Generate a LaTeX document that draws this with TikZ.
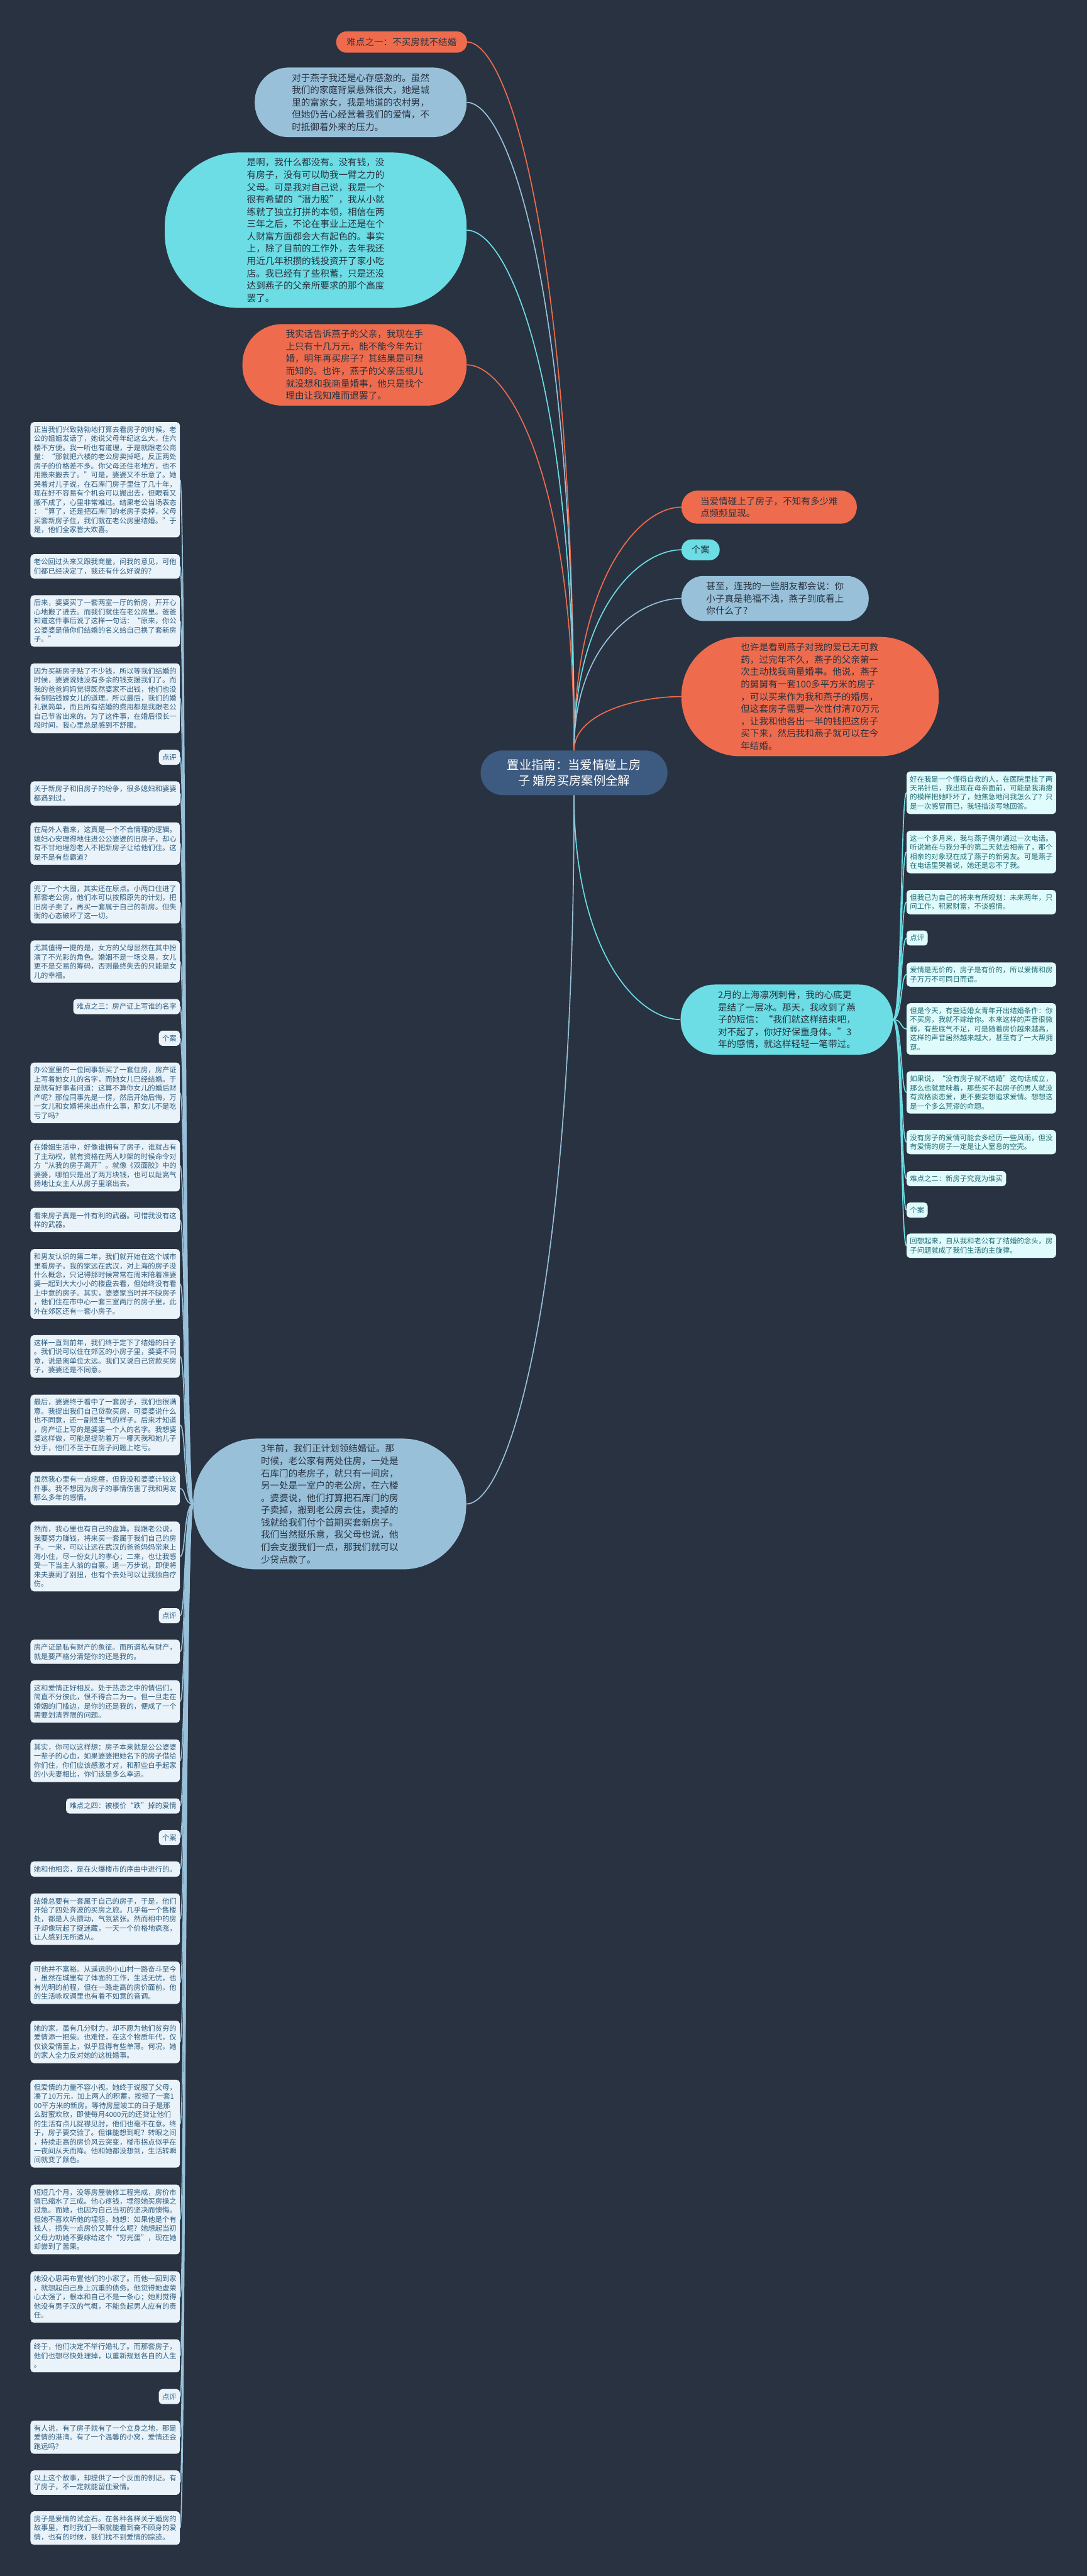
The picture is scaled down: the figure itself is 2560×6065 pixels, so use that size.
\documentclass[tikz,border=0pt]{standalone}
\usepackage{fontspec}
\setmainfont{Noto Sans CJK SC}
\usetikzlibrary{calc}
\definecolor{bgc}{HTML}{293241}
\definecolor{salmon}{HTML}{EE6C4D}
\definecolor{lblue}{HTML}{98C1D9}
\definecolor{cyanA}{HTML}{6CDDE4}
\definecolor{rootc}{HTML}{3D5A80}
\definecolor{lfill}{HTML}{EAF3F9}
\definecolor{rfill}{HTML}{E0FBFC}
\definecolor{ltext}{HTML}{2F5D80}
\definecolor{rtext}{HTML}{1F6A73}
\definecolor{tdark}{HTML}{293241}
\newcommand\fmain{\fontsize{21.6pt}{29pt}\selectfont}
\newcommand\fsmall{\fontsize{16.8pt}{21.4pt}\selectfont}
\newcommand\froot{\fontsize{28.6pt}{38pt}\selectfont}
\pgfdeclarelayer{bglayer}
\pgfsetlayers{bglayer,main}
\tikzset{
  mainbox/.style={align=left, inner sep=0pt, font=\fmain, text=tdark},
  colL/.style={fill=lfill, text=ltext, rounded corners=8pt, inner xsep=8pt, inner ysep=10pt, font=\fsmall, align=left, anchor=east},
  colLw/.style={colL, text width=336pt},
  colR/.style={fill=rfill, text=rtext, rounded corners=8pt, inner xsep=8pt, inner ysep=10pt, font=\fsmall, align=left, anchor=west},
  colRw/.style={colR, text width=336pt},
  link/.style={line width=2.5pt},
  salmonline/.style={link, draw=salmon},
  blueline/.style={link, draw=lblue},
  cyanline/.style={link, draw=cyanA},
}
\newcommand\vconn[3]{\draw[#1] (#2) .. controls ($(#2)!0.7!(#2 |- #3)$) and ($(#3)!0.4!(#2 |- #3)$) .. (#3);}
\newcommand\rconn[2]{\draw[cyanline] (#1) .. controls +(22,0) and +(-14,0) .. (#2);}
\newcommand\lconn[2]{\draw[blueline] (#1) .. controls +(-22,0) and +(14,0) .. (#2);}
\begin{document}
\begin{tikzpicture}[x=1pt,y=-1pt]
\begin{pgfonlayer}{bglayer}
\fill[bgc] (0,0) rectangle (2560,6065);
\end{pgfonlayer}
\useasboundingbox (0,0) rectangle (2560,6065);

% ---------- root ----------
\node[fill=rootc, text=white, font=\froot, align=center, minimum width=440pt, minimum height=105pt, rounded corners=52pt, inner sep=0pt] (root) at (1352,1819.5) {置业指南：当爱情碰上房\\子 婚房买房案例全解};

% ---------- upper left ----------
\node[mainbox, fill=salmon, minimum width=308pt, minimum height=50pt, rounded corners=24pt] (t1) at (946,99) {难点之一：不买房就不结婚};
\node[mainbox, fill=lblue, minimum width=499pt, minimum height=164pt, rounded corners=80pt] (t2) at (849.5,241) {对于燕子我还是心存感激的。虽然\\我们的家庭背景悬殊很大，她是城\\里的富家女，我是地道的农村男，\\但她仍苦心经营着我们的爱情，不\\时抵御着外来的压力。};
\node[mainbox, fill=cyanA, minimum width=711pt, minimum height=366pt, rounded corners=175pt] (t3) at (743.5,542) {是啊，我什么都没有。没有钱，没\\有房子，没有可以助我一臂之力的\\父母。可是我对自己说，我是一个\\很有希望的“潜力股”，我从小就\\练就了独立打拼的本领，相信在两\\三年之后，不论在事业上还是在个\\人财富方面都会大有起色的。事实\\上，除了目前的工作外，去年我还\\用近几年积攒的钱投资开了家小吃\\店。我已经有了些积蓄，只是还没\\达到燕子的父亲所要求的那个高度\\罢了。};
\node[mainbox, fill=salmon, minimum width=528pt, minimum height=192pt, rounded corners=94pt] (t4) at (835,859) {我实话告诉燕子的父亲，我现在手\\上只有十几万元，能不能今年先订\\婚，明年再买房子？其结果是可想\\而知的。也许，燕子的父亲压根儿\\就没想和我商量婚事，他只是找个\\理由让我知难而退罢了。};

% ---------- upper right ----------
\node[mainbox, fill=salmon, minimum width=413pt, minimum height=78pt, rounded corners=38pt] (r1) at (1811.5,1194) {当爱情碰上了房子，不知有多少难\\点频频显现。};
\node[mainbox, fill=cyanA, minimum width=90pt, minimum height=49pt, rounded corners=24pt] (r2) at (1650,1294.5) {个案};
\node[mainbox, fill=lblue, minimum width=441pt, minimum height=106pt, rounded corners=52pt] (r3) at (1825.5,1409) {甚至，连我的一些朋友都会说：你\\小子真是艳福不浅，燕子到底看上\\你什么了？};
\node[mainbox, fill=salmon, minimum width=606pt, minimum height=281pt, rounded corners=138pt] (r4) at (1908,1640) {也许是看到燕子对我的爱已无可救\\药，过完年不久，燕子的父亲第一\\次主动找我商量婚事。他说，燕子\\的舅舅有一套100多平方米的房子\\，可以买来作为我和燕子的婚房，\\但这套房子需要一次性付清70万元\\，让我和他各出一半的钱把这房子\\买下来，然后我和燕子就可以在今\\年结婚。};

% ---------- lower main ----------
\node[mainbox, fill=cyanA, minimum width=500pt, minimum height=165pt, rounded corners=80pt] (m2) at (1853,2400.5) {2月的上海凛冽刺骨，我的心底更\\是结了一层冰。那天，我收到了燕\\子的短信：“我们就这样结束吧，\\对不起了，你好好保重身体。”3\\年的感情，就这样轻轻一笔带过。};
\node[mainbox, fill=lblue, minimum width=643pt, minimum height=308pt, rounded corners=150pt] (m3) at (776.5,3541) {3年前，我们正计划领结婚证。那\\时候，老公家有两处住房，一处是\\石库门的老房子，就只有一间房，\\另一处是一室户的老公房，在六楼\\。婆婆说，他们打算把石库门的房\\子卖掉，搬到老公房去住，卖掉的\\钱就给我们付个首期买套新房子。\\我们当然挺乐意，我父母也说，他\\们会支援我们一点，那我们就可以\\少贷点款了。};

% ---------- right column ----------
\node[colRw] (n1) at (2135,1866.5) {好在我是一个懂得自救的人。在医院里挂了两\\天吊针后，我出现在母亲面前，可能是我消瘦\\的模样把她吓坏了，她焦急地问我怎么了？只\\是一次感冒而已，我轻描淡写地回答。};
\node[colRw] (n2) at (2135,2006) {这一个多月来，我与燕子偶尔通过一次电话。\\听说她在与我分手的第二天就去相亲了，那个\\相亲的对象现在成了燕子的新男友。可是燕子\\在电话里哭着说，她还是忘不了我。};
\node[colRw] (n3) at (2135,2124) {但我已为自己的将来有所规划：未来两年，只\\问工作，积累财富，不谈感情。};
\node[colR] (n4) at (2135,2208.5) {点评};
\node[colRw] (n5) at (2135,2294.5) {爱情是无价的，房子是有价的，所以爱情和房\\子万万不可同日而语。};
\node[colRw] (n6) at (2135,2422.5) {但是今天，有些适婚女青年开出结婚条件：你\\不买房，我就不嫁给你。本来这样的声音很微\\弱，有些底气不足，可是随着房价越来越高，\\这样的声音居然越来越大，甚至有了一大帮拥\\趸。};
\node[colRw] (n7) at (2135,2572) {如果说，“没有房子就不结婚”这句话成立，\\那么也就意味着，那些买不起房子的男人就没\\有资格谈恋爱，更不要妄想追求爱情。想想这\\是一个多么荒谬的命题。};
\node[colRw] (n8) at (2135,2689) {没有房子的爱情可能会多经历一些风雨，但没\\有爱情的房子一定是让人窒息的空壳。};
\node[colR] (n9) at (2135,2775) {难点之二：新房子究竟为谁买};
\node[colR] (n10) at (2135,2849) {个案};
\node[colRw] (n11) at (2135,2933) {回想起来，自从我和老公有了结婚的念头，房\\子问题就成了我们生活的主旋律。};

% ---------- left column ----------
\node[colLw] (l1) at (424,1129.5) {正当我们兴致勃勃地打算去看房子的时候，老\\公的姐姐发话了，她说父母年纪这么大，住六\\楼不方便。我一听也有道理，于是就跟老公商\\量：“那就把六楼的老公房卖掉吧，反正两处\\房子的价格差不多。你父母还住老地方，也不\\用搬来搬去了。”可是，婆婆又不乐意了。她\\哭着对儿子说，在石库门房子里住了几十年，\\现在好不容易有个机会可以搬出去，但眼看又\\搬不成了，心里非常难过。结果老公当场表态\\：“算了，还是把石库门的老房子卖掉，父母\\买套新房子住，我们就在老公房里结婚。”于\\是，他们全家皆大欢喜。};
\node[colLw] (l2) at (424,1333.5) {老公回过头来又跟我商量，问我的意见，可他\\们都已经决定了，我还有什么好说的？};
\node[colLw] (l3) at (424,1462) {后来，婆婆买了一套两室一厅的新房，开开心\\心地搬了进去。而我们就住在老公房里。爸爸\\知道这件事后说了这样一句话：“原来，你公\\公婆婆是借你们结婚的名义给自己换了套新房\\子。”};
\node[colLw] (l4) at (424,1644) {因为买新房子贴了不少钱，所以等我们结婚的\\时候，婆婆说她没有多余的钱支援我们了。而\\我的爸爸妈妈觉得既然婆家不出钱，他们也没\\有倒贴钱嫁女儿的道理。所以最后，我们的婚\\礼很简单，而且所有结婚的费用都是我跟老公\\自己节省出来的。为了这件事，在婚后很长一\\段时间，我心里总是感到不舒服。};
\node[colL] (l5) at (424,1783) {点评};
\node[colLw] (l6) at (424,1868) {关于新房子和旧房子的纷争，很多媳妇和婆婆\\都遇到过。};
\node[colLw] (l7) at (424,1986) {在局外人看来，这真是一个不合情理的逻辑。\\媳妇心安理得地住进公公婆婆的旧房子，却心\\有不甘地埋怨老人不把新房子让给他们住。这\\是不是有些霸道？};
\node[colLw] (l8) at (424,2124.5) {兜了一个大圈，其实还在原点。小两口住进了\\那套老公房，他们本可以按照原先的计划，把\\旧房子卖了，再买一套属于自己的新房。但失\\衡的心态破坏了这一切。};
\node[colLw] (l9) at (424,2264) {尤其值得一提的是，女方的父母显然在其中扮\\演了不光彩的角色。婚姻不是一场交易，女儿\\更不是交易的筹码，否则最终失去的只能是女\\儿的幸福。};
\node[colL] (l10) at (424,2370) {难点之三：房产证上写谁的名字};
\node[colL] (l11) at (424,2444.5) {个案};
\node[colLw] (l12) at (424,2573) {办公室里的一位同事新买了一套住房，房产证\\上写着她女儿的名字，而她女儿已经结婚。于\\是就有好事者问道：这算不算你女儿的婚后财\\产呢？那位同事先是一愣，然后开始后悔，万\\一女儿和女婿将来出点什么事，那女儿不是吃\\亏了吗？};
\node[colLw] (l13) at (424,2744.5) {在婚姻生活中，好像谁拥有了房子，谁就占有\\了主动权，就有资格在两人吵架的时候命令对\\方“从我的房子离开”。就像《双面胶》中的\\婆婆，哪怕只是出了两万块钱，也可以趾高气\\扬地让女主人从房子里滚出去。};
\node[colLw] (l14) at (424,2872.5) {看来房子真是一件有利的武器。可惜我没有这\\样的武器。};
\node[colLw] (l15) at (424,3023) {和男友认识的第二年，我们就开始在这个城市\\里看房子。我的家远在武汉，对上海的房子没\\什么概念，只记得那时候常常在周末陪着准婆\\婆一起到大大小小的楼盘去看，但始终没有看\\上中意的房子。其实，婆婆家当时并不缺房子\\，他们住在市中心一套三室两厅的房子里，此\\外在郊区还有一套小房子。};
\node[colLw] (l16) at (424,3193.5) {这样一直到前年，我们终于定下了结婚的日子\\。我们说可以住在郊区的小房子里，婆婆不同\\意，说是离单位太远。我们又说自己贷款买房\\子，婆婆还是不同意。};
\node[colLw] (l17) at (424,3355) {最后，婆婆终于看中了一套房子，我们也很满\\意。我提出我们自己贷款买房，可婆婆说什么\\也不同意，还一副很生气的样子。后来才知道\\，房产证上写的是婆婆一个人的名字。我想婆\\婆这样做，可能是提防着万一哪天我和她儿子\\分手，他们不至于在房子问题上吃亏。};
\node[colLw] (l18) at (424,3504.5) {虽然我心里有一点疙瘩，但我没和婆婆计较这\\件事。我不想因为房子的事情伤害了我和男友\\那么多年的感情。};
\node[colLw] (l19) at (424,3664.5) {然而，我心里也有自己的盘算。我跟老公说，\\我要努力赚钱，将来买一套属于我们自己的房\\子。一来，可以让远在武汉的爸爸妈妈常来上\\海小住，尽一份女儿的孝心；二来，也让我感\\受一下当主人翁的自豪。退一万步说，即使将\\来夫妻闹了别扭，也有个去处可以让我独自疗\\伤。};
\node[colL] (l20) at (424,3804) {点评};
\node[colLw] (l21) at (424,3889) {房产证是私有财产的象征。而所谓私有财产，\\就是要严格分清楚你的还是我的。};
\node[colLw] (l22) at (424,4006) {这和爱情正好相反。处于热恋之中的情侣们，\\简直不分彼此，恨不得合二为一。但一旦走在\\婚姻的门槛边，是你的还是我的，便成了一个\\需要划清界限的问题。};
\node[colLw] (l23) at (424,4145.5) {其实，你可以这样想：房子本来就是公公婆婆\\一辈子的心血，如果婆婆把她名下的房子借给\\你们住，你们应该感激才对，和那些白手起家\\的小夫妻相比，你们该是多么幸运。};
\node[colL] (l24) at (424,4252) {难点之四：被楼价“跌”掉的爱情};
\node[colL] (l25) at (424,4326.5) {个案};
\node[colLw] (l26) at (424,4400.5) {她和他相恋，是在火爆楼市的序曲中进行的。};
\node[colLw] (l27) at (424,4518.5) {结婚总要有一套属于自己的房子，于是，他们\\开始了四处奔波的买房之旅。几乎每一个售楼\\处，都是人头攒动，气氛紧张。然而相中的房\\子却像玩起了捉迷藏，一天一个价格地疯涨，\\让人感到无所适从。};
\node[colLw] (l28) at (424,4668) {可他并不富裕。从遥远的小山村一路奋斗至今\\，虽然在城里有了体面的工作，生活无忧，也\\有光明的前程，但在一路走高的房价面前，他\\的生活咏叹调里也有着不如意的音调。};
\node[colLw] (l29) at (424,4807.5) {她的家，虽有几分财力，却不愿为他们贫穷的\\爱情添一把柴。也难怪，在这个物质年代，仅\\仅谈爱情至上，似乎显得有些单薄。何况，她\\的家人全力反对她的这桩婚事。};
\node[colLw] (l30) at (424,5000) {但爱情的力量不容小视。她终于说服了父母，\\凑了10万元，加上两人的积蓄，按揭了一套1\\00平方米的新房。等待房屋竣工的日子是那\\么甜蜜欢欣，即使每月4000元的还贷让他们\\的生活有点儿捉襟见肘，他们也毫不在意。终\\于，房子要交验了。但谁能想到呢？转眼之间\\，持续走高的房价风云突变，楼市拐点似乎在\\一夜间从天而降。他和她都没想到，生活转瞬\\间就变了颜色。};
\node[colLw] (l31) at (424,5225.5) {短短几个月，没等房屋装修工程完成，房价市\\值已缩水了三成。他心疼钱，埋怨她买房操之\\过急。而她，也因为自己当初的坚决而懊悔。\\但她不喜欢听他的埋怨，她想：如果他是个有\\钱人，损失一点房价又算什么呢？她想起当初\\父母力劝她不要嫁给这个“穷光蛋”，现在她\\却尝到了苦果。};
\node[colLw] (l32) at (424,5408) {她没心思再布置他们的小家了。而他一回到家\\，就想起自己身上沉重的债务。他觉得她虚荣\\心太强了，根本和自己不是一条心；她则觉得\\他没有男子汉的气概，不能负起男人应有的责\\任。};
\node[colLw] (l33) at (424,5546.5) {终于，他们决定不举行婚礼了。而那套房子，\\他们也想尽快处理掉，以重新规划各自的人生\\。};
\node[colL] (l34) at (424,5642.5) {点评};
\node[colLw] (l35) at (424,5738) {有人说，有了房子就有了一个立身之地，那是\\爱情的港湾。有了一个温馨的小窝，爱情还会\\跑远吗？};
\node[colLw] (l36) at (424,5845) {以上这个故事，却提供了一个反面的例证。有\\了房子，不一定就能留住爱情。};
\node[colLw] (l37) at (424,5952) {房子是爱情的试金石。在各种各样关于婚房的\\故事里，有时我们一眼就能看到奋不顾身的爱\\情，也有的时候，我们找不到爱情的踪迹。};

% ---------- connectors ----------
\begin{pgfonlayer}{bglayer}
\vconn{salmonline}{root.north}{t1.east}
\vconn{blueline}{root.north}{t2.east}
\vconn{cyanline}{root.north}{t3.east}
\vconn{salmonline}{root.north}{t4.east}
\vconn{salmonline}{root.north}{r1.west}
\vconn{cyanline}{root.north}{r2.west}
\vconn{blueline}{root.north}{r3.west}
\vconn{salmonline}{root.north}{r4.west}
\vconn{cyanline}{root.south}{m2.west}
\vconn{blueline}{root.south}{m3.east}
\foreach \n in {n1,n2,n3,n4,n5,n6,n7,n8,n9,n10,n11}{\rconn{m2.east}{\n.west}}
\foreach \n in {l1,l2,l3,l4,l5,l6,l7,l8,l9,l10,l11,l12,l13,l14,l15,l16,l17,l18,l19,l20,l21,l22,l23,l24,l25,l26,l27,l28,l29,l30,l31,l32,l33,l34,l35,l36,l37}{\lconn{m3.west}{\n.east}}
\end{pgfonlayer}
\end{tikzpicture}
\end{document}
